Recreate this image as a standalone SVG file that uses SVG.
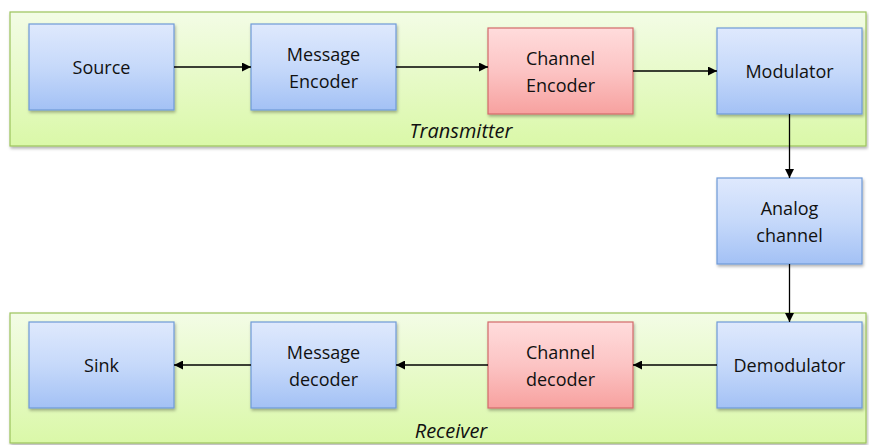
<svg xmlns="http://www.w3.org/2000/svg" width="869" height="445" viewBox="0 0 869 445">
<defs>
<linearGradient id="gBlue" x1="0" y1="0" x2="0" y2="1"><stop offset="0" stop-color="#dfe9fd"/><stop offset="0.5" stop-color="#c6d9fa"/><stop offset="1" stop-color="#a3c1f5"/></linearGradient>
<linearGradient id="gRed" x1="0" y1="0" x2="0" y2="1"><stop offset="0" stop-color="#ffdcdc"/><stop offset="0.5" stop-color="#fcc4c4"/><stop offset="1" stop-color="#f7a19f"/></linearGradient>
<linearGradient id="gGreen" x1="0" y1="0" x2="0" y2="1"><stop offset="0" stop-color="#f3fce6"/><stop offset="1" stop-color="#daf8a8"/></linearGradient>
<filter id="sh" x="-10%" y="-10%" width="130%" height="130%"><feDropShadow dx="1" dy="2" stdDeviation="1.5" flood-color="#000" flood-opacity="0.3"/></filter>
<marker id="arr" viewBox="0 0 10 10" refX="10" refY="5" markerWidth="9" markerHeight="9" markerUnits="userSpaceOnUse" orient="auto"><path d="M0,0 L10,5 L0,10 z" fill="#000"/></marker>
</defs>
<style>
.cont{fill:url(#gGreen);stroke:#9cc45c;stroke-width:1.2;filter:url(#sh)}
.blue{fill:url(#gBlue);stroke:#6f9ad8;stroke-width:1.2;filter:url(#sh)}
.red{fill:url(#gRed);stroke:#d26a6a;stroke-width:1.2;filter:url(#sh)}
text{font-family:"Open Sans","Liberation Sans",sans-serif;font-size:18px;fill:#111;text-anchor:middle}
.it{font-style:italic;font-size:20px}
.c{stroke:#000;stroke-width:1.3;fill:none;marker-end:url(#arr)}
</style>
<g id="transmitter"><rect class="cont" x="10" y="12" width="856" height="134"/><text class="it" x="461" y="138">Transmitter</text></g>
<g id="receiver"><rect class="cont" x="10" y="313" width="856" height="130"/><text class="it" x="451" y="438">Receiver</text></g>
<g id="source"><rect class="blue" x="29" y="24" width="145" height="86"/><text x="101.5" y="74">Source</text></g>
<g id="message-encoder"><rect class="blue" x="251" y="24" width="145" height="86"/><text x="323.5" y="61">Message</text><text x="323.5" y="88">Encoder</text></g>
<g id="channel-encoder"><rect class="red" x="488" y="28" width="145" height="86"/><text x="560.5" y="65">Channel</text><text x="560.5" y="92">Encoder</text></g>
<g id="modulator"><rect class="blue" x="717" y="28" width="145" height="86"/><text x="789.5" y="78">Modulator</text></g>
<g id="analog-channel"><rect class="blue" x="717" y="178" width="145" height="86"/><text x="789.5" y="215">Analog</text><text x="789.5" y="242">channel</text></g>
<g id="sink"><rect class="blue" x="29" y="322" width="145" height="86"/><text x="101.5" y="372">Sink</text></g>
<g id="message-decoder"><rect class="blue" x="251" y="322" width="145" height="86"/><text x="323.5" y="359">Message</text><text x="323.5" y="386">decoder</text></g>
<g id="channel-decoder"><rect class="red" x="488" y="322" width="145" height="86"/><text x="560.5" y="359">Channel</text><text x="560.5" y="386">decoder</text></g>
<g id="demodulator"><rect class="blue" x="717" y="322" width="145" height="86"/><text x="789.5" y="372">Demodulator</text></g>
<g id="connectors">
<line class="c" x1="174" y1="67" x2="251" y2="67"/>
<line class="c" x1="396" y1="67" x2="488" y2="67"/>
<line class="c" x1="633" y1="71" x2="717" y2="71"/>
<line class="c" x1="789.5" y1="114" x2="789.5" y2="178"/>
<line class="c" x1="789.5" y1="264" x2="789.5" y2="322"/>
<line class="c" x1="717" y1="365" x2="633" y2="365"/>
<line class="c" x1="488" y1="365" x2="396" y2="365"/>
<line class="c" x1="251" y1="365" x2="174" y2="365"/>
</g>
</svg>
